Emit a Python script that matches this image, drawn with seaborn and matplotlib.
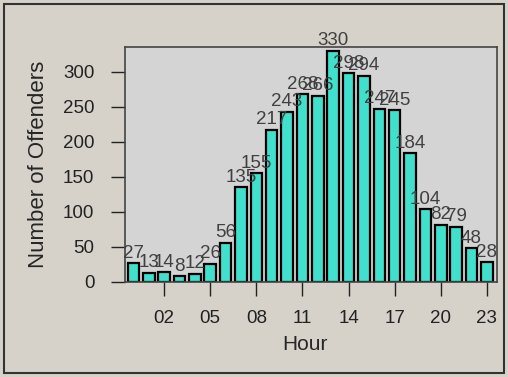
import matplotlib
matplotlib.use('Agg')
import matplotlib.pyplot as plt
import seaborn as sns
import pandas as pd
from matplotlib.patches import Rectangle

hours = ['00', '01', '02', '03', '04', '05', '06', '07', '08', '09', '10', '11',
         '12', '13', '14', '15', '16', '17', '18', '19', '20', '21', '22', '23']
offenders = [27, 13, 14, 8, 12, 26, 56, 135, 155, 217, 243, 268,
             266, 330, 298, 294, 247, 245, 184, 104, 82, 79, 48, 28]
shown_ticks = ['02', '05', '08', '11', '14', '17', '20', '23']

df = pd.DataFrame({'hour': hours, 'count': offenders})

sns.set_style('ticks')
plt.rcParams['font.family'] = ['Liberation Sans', 'DejaVu Sans']

fig = plt.figure(figsize=(5.08, 3.77), dpi=100)
fig.patch.set_facecolor('#d6d2ca')
ax = fig.add_axes([0.246, 0.252, 0.732, 0.623])
ax.set_facecolor('#d4d4d4')

sns.barplot(data=df, x='hour', y='count', color='#40e0cc', saturation=1,
            width=0.75, edgecolor='black', linewidth=1.6, ax=ax)

# value labels sit right on top of each bar (they overlap in the original too)
for i, v in enumerate(offenders):
    ax.text(i, v + 2, str(v), ha='center', va='bottom', fontsize=13.5,
            color='#404040', clip_on=False)

ax.set_xlim(-0.55, 23.65)
ax.set_ylim(0, 335)
ax.set_yticks([0, 50, 100, 150, 200, 250, 300])
ax.set_xticks([hours.index(h) for h in shown_ticks])
ax.set_xticklabels(shown_ticks)
ax.tick_params(axis='both', labelsize=13.5, colors='#222222', length=10, width=1, pad=10)
ax.tick_params(axis='y', pad=12)
ax.set_xlabel('Hour', fontsize=15)
ax.set_ylabel('Number of Offenders', fontsize=16)
ax.xaxis.set_label_coords(0.484, -0.225)
ax.yaxis.set_label_coords(-0.205, 0.5)
for s in ax.spines.values():
    s.set_visible(True)
    s.set_color('#444444')
    s.set_linewidth(1.2)

fig.patches.append(Rectangle((0.008, 0.01), 0.984, 0.98, transform=fig.transFigure,
                             fill=False, edgecolor='#333333', linewidth=1.5))

fig.savefig('out.png', dpi=100, facecolor=fig.get_facecolor())
